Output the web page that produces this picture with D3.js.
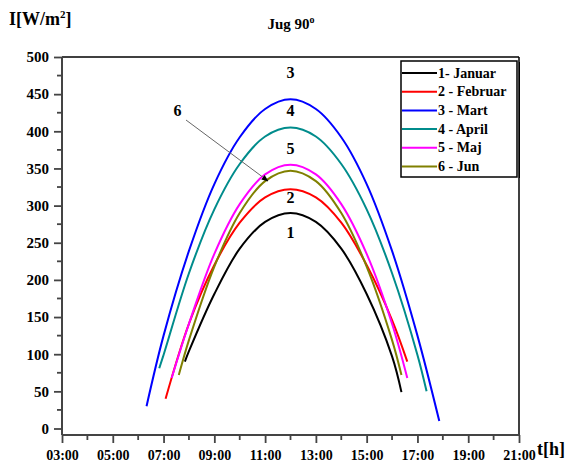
<!DOCTYPE html>
<html><head><meta charset="utf-8">
<script src="https://cdn.jsdelivr.net/npm/d3@7"></script>
<style>
html,body{margin:0;padding:0;background:#fff;}
svg{display:block;}
text{font-family:"Liberation Serif","Times New Roman",serif;font-weight:bold;fill:#000;}
</style></head>
<body><svg id="c" width="577" height="463"></svg>
<script>
// ---- data ----
const seriesNames = ["1- Januar","2 - Februar","3 - Mart","4 - April","5 - Maj","6 - Jun"];
const seriesColors = ["#000000","#ff0000","#0000ff","#008c8c","#ff00ff","#808000"];
const janT = [7.84,8,9,10,11,12,13,14,15,16,16.37];
const janV = [90,104,181,242,278,290,278,242,181,97,49];
const febT = [7.08,8,9,10,11,12,13,14,15,16,16.6];
const febV = [40,141,220,277,311,322,311,277,220,146,90];
const marT = [6.33,7,8,9,10,11,12,13,14,15,16,17,17.86];
const marV = [30,125,239,329,392,430,443,430,392,329,239,125,10];
const aprT = [6.83,7,8,9,10,11,12,13,14,15,16,17,17.36];
const aprV = [81,99,209,295,356,393,405,393,356,295,209,99,50];
const majT = [7.32,8,9,10,11,12,13,14,15,16,16.6];
const majV = [68,141,235,302,342,355,342,302,235,141,68];
const junT = [7.6,8,9,10,11,12,13,14,15,16,16.37];
const junV = [72,119,218,290,333,347,333,290,218,119,72];
const xTickHours = [3,5,7,9,11,13,15,17,19,21];
const xTickLabels = ["03:00","05:00","07:00","09:00","11:00","13:00","15:00","17:00","19:00","21:00"];
const yTicks = [0,50,100,150,200,250,300,350,400,450,500];
const curveLabels = [
  {t:"3", h:12, v:472},
  {t:"4", h:12, v:421},
  {t:"5", h:12, v:369},
  {t:"2", h:12, v:303},
  {t:"1", h:12, v:257},
  {t:"6", h:7.55, v:420}
];

const seriesT = [janT,febT,marT,aprT,majT,junT];
const seriesV = [janV,febV,marV,aprV,majV,junV];

// ---- layout ----
const L = 62, R = 519, T = 57, B = 435;
const svg = d3.select("#c");
const x = d3.scaleLinear().domain([3,21]).range([L,R]);
const y = d3.scaleLinear().domain([0,500]).range([428.5,T]);

// frame top & right
svg.append("line").attr("x1",L).attr("x2",R).attr("y1",T).attr("y2",T).attr("stroke","#000").attr("stroke-width",1.5);
svg.append("line").attr("x1",R).attr("x2",R).attr("y1",T).attr("y2",B).attr("stroke","#000").attr("stroke-width",1.5);

// x axis
const xAxis = d3.axisBottom(x).tickValues(xTickHours).tickFormat((d,i)=>xTickLabels[i]).tickSize(8).tickPadding(7).tickSizeOuter(0);
const gx = svg.append("g").attr("transform",`translate(0,${B})`).call(xAxis);
gx.select(".domain").remove();
gx.selectAll(".tick line").attr("stroke","#444").attr("stroke-width",1.8);
gx.selectAll(".tick text").style("font-size","14px").attr("font-family",null);
gx.selectAll(".minor").data(d3.range(4,21,2)).enter().append("line")
  .attr("x1",d=>x(d)).attr("x2",d=>x(d)).attr("y1",0).attr("y2",5).attr("stroke","#444").attr("stroke-width",1.8);
svg.append("line").attr("x1",L).attr("x2",R).attr("y1",B).attr("y2",B).attr("stroke","#444").attr("stroke-width",2);

// y axis
const yAxis = d3.axisLeft(y).tickValues(yTicks).tickSize(8).tickPadding(5).tickSizeOuter(0);
const gy = svg.append("g").attr("transform",`translate(${L},0)`).call(yAxis);
gy.select(".domain").remove();
gy.selectAll(".tick line").attr("stroke","#444").attr("stroke-width",1.8);
gy.selectAll(".tick text").style("font-size","15px").attr("font-family",null);
gy.selectAll(".minor").data(d3.range(25,500,50)).enter().append("line")
  .attr("x1",0).attr("x2",-5).attr("y1",d=>y(d)).attr("y2",d=>y(d)).attr("stroke","#444").attr("stroke-width",1.8);
svg.append("line").attr("x1",L).attr("x2",L).attr("y1",T).attr("y2",B).attr("stroke","#444").attr("stroke-width",2);

// curves
const line = d3.line().x(d=>x(d[0])).y(d=>y(d[1])).curve(d3.curveCatmullRom.alpha(0.5));
seriesT.forEach((ts,i)=>{
  const pts = ts.map((t,j)=>[t,seriesV[i][j]]);
  svg.append("path").attr("d",line(pts)).attr("fill","none").attr("stroke",seriesColors[i]).attr("stroke-width",2);
});

// curve labels
curveLabels.forEach(c=>{
  svg.append("text").attr("x",x(c.h)).attr("y",y(c.v)).attr("text-anchor","middle").style("font-size","16px").text(c.t);
});

// arrow
svg.append("defs").append("marker").attr("id","ah").attr("viewBox","0 0 10 10").attr("refX",9).attr("refY",5)
  .attr("markerWidth",7).attr("markerHeight",7).attr("orient","auto")
  .append("path").attr("d","M0,1 L10,5 L0,9 z").attr("fill","#000");
svg.append("line").attr("x1",186).attr("y1",120).attr("x2",268).attr("y2",181)
  .attr("stroke","#666").attr("stroke-width",1).attr("marker-end","url(#ah)");

// legend
const lg = svg.append("g");
lg.append("rect").attr("x",401).attr("y",61).attr("width",116).attr("height",116).attr("fill","none").attr("stroke","#000").attr("stroke-width",1.5);
lg.append("line").attr("x1",519.5).attr("x2",519.5).attr("y1",62).attr("y2",178).attr("stroke","#000").attr("stroke-width",1);
seriesNames.forEach((n,i)=>{
  const yy = 73 + i*18.7;
  lg.append("line").attr("x1",402).attr("x2",437).attr("y1",yy).attr("y2",yy).attr("stroke",seriesColors[i]).attr("stroke-width",2);
  lg.append("text").attr("x",438).attr("y",yy+4.5).style("font-size","14px").text(n);
});

// titles
const tt = svg.append("text").attr("x",291).attr("y",29).attr("text-anchor","middle").style("font-size","15px");
tt.append("tspan").text("Jug 90");
tt.append("tspan").attr("dy",-6).style("font-size","10px").text("o");
const yt = svg.append("text").attr("x",9).attr("y",25).style("font-size","18px");
yt.append("tspan").text("I[W/m");
yt.append("tspan").attr("dy",-7).style("font-size","11px").text("2");
yt.append("tspan").attr("dy",7).text("]");
svg.append("text").attr("x",537).attr("y",455).style("font-size","18px").text("t[h]");
</script></body></html>
